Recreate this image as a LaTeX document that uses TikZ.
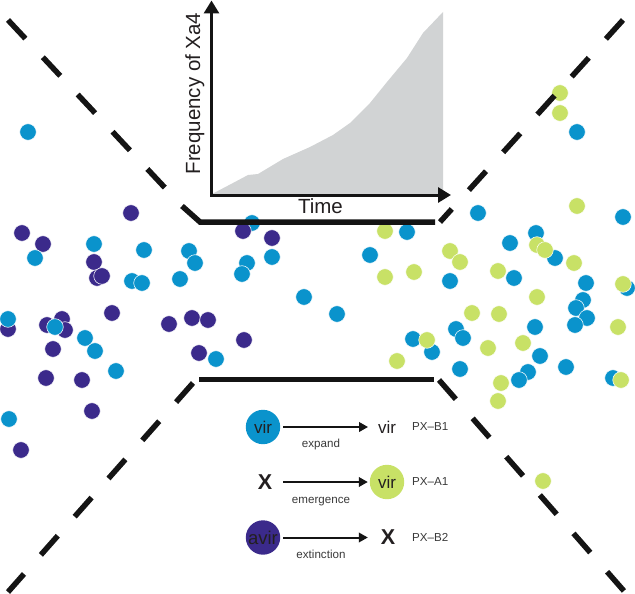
\documentclass[tikz,border=0pt]{standalone}
\usepackage{fontspec}
\setmainfont{Liberation Sans}
\usetikzlibrary{arrows.meta}
\definecolor{cy}{HTML}{0A93CC}
\definecolor{pu}{HTML}{3B2A8B}
\definecolor{gr}{HTML}{C8E166}
\definecolor{gy}{HTML}{D1D3D4}
\definecolor{tx}{HTML}{231F20}
\definecolor{tx2}{HTML}{3A3A3A}
\definecolor{ln}{HTML}{141414}
\begin{document}
\begin{tikzpicture}[x=1pt,y=-1pt,
  dot/.style={circle,inner sep=0pt,minimum size=16.6pt,draw=white,line width=0.5pt},
  bigdot/.style={circle,inner sep=0pt,outer sep=0pt,minimum size=34.4pt,text=tx},
  barline/.style={line width=5.5pt,ln,line join=miter},
  dashline/.style={line width=5.5pt,ln,dash pattern=on 25.5pt off 25.5pt},
  axis/.style={line width=3pt,ln,line join=miter,{Triangle[length=13pt,width=15pt]}-{Triangle[length=13pt,width=15pt]}},
  legarrow/.style={line width=2pt,ln,-{Triangle[length=9pt,width=9.5pt]}},
  big/.style={font=\fontsize{20.5}{24}\selectfont,text=tx,inner sep=0pt},
  vir/.style={font=\fontsize{17}{20}\selectfont,text=tx,inner sep=0pt,outer sep=0pt},
  bigx/.style={font=\fontsize{21.5}{24}\selectfont\bfseries,text=tx,inner sep=0pt,outer sep=0pt},
  small/.style={font=\fontsize{11.6}{13}\selectfont,text=tx2,inner sep=0pt}]
\useasboundingbox (0,0) rectangle (635,594);
\fill[white] (0,0) rectangle (635,594);

% chart area
\fill[gy] (212,194) -- (233,183) -- (248,175) -- (258,174) -- (283,159) -- (310,147)
  -- (333,135) -- (350,123) -- (370,103) -- (387,82) -- (407,58) -- (423,33)
  -- (443,12) -- (443,194) -- cycle;
\coordinate (ytop) at (211.5,0.5);
\coordinate (orig) at (211.5,195);
\coordinate (xend) at (451,195);
\draw[axis] (ytop) -- (orig) -- (xend);
\node[big,rotate=90,anchor=base] (ylab) at (200,93.5) {Frequency of Xa4};
\node[big,anchor=base] (xlab) at (320.5,213) {Time};

% dots (under)
\foreach \x/\y [count=\i] in {252/223}
  \node[dot,fill=cy] (cu\i) at (\x,\y) {};
% purple
\foreach \x/\y [count=\i] in {131/213,22/233,43/244,94/262,97/278,102/276,243/231,272/238,
  8/329,47/325,62/319,65/330,112/313,53/349,46/378,82/380,169/324,192/318,208/320,
  199/353,244/340,92/411,21/450}
  \node[dot,fill=pu] (pu\i) at (\x,\y) {};
% cyan
\foreach \x/\y [count=\i] in {28/132,35/258,94/244,144/250,132/281,142/283,189/251,195/263,
  180/279,272/257,247/263,242/274,304/297,8/319,55/327,85/338,95/351,116/371,216/359,
  9/419,577/132,478/213,623/217,407/232,370/255,450/281,510/243,536/233,555/258,514/278,
  586/283,627/288,337/314,583/300,576/308,587/318,575/325,535/327,456/329,463/338,
  413/339,432/352,540/356,460/369,528/372,519/380,566/367,613/378}
  \node[dot,fill=cy] (cy\i) at (\x,\y) {};
% green
\foreach \x/\y [count=\i] in {560/93,560/113,577/206,385/231,450/251,460/262,385/277,414/272,
  537/245,545/250,574/263,498/271,623/284,537/297,472/313,499/314,618/327,427/340,
  488/348,523/343,397/361,621/380,501/383,498/401,543/481}
  \node[dot,fill=gr] (gr\i) at (\x,\y) {};

% hourglass lines
\draw[dashline] (8,20) -- (182,206);
\draw[barline] (182,206) -- (200,222) -- (435,222);
\draw[dashline] (623,20) -- (440,222);
\draw[barline] (199,379.5) -- (434,379.5);
\draw[dashline] (193,383) -- (8,592);
\draw[dashline] (439,380) -- (624,591);

% legend
\node[bigdot,fill=cy,font=\fontsize{17}{20}\selectfont] (l1) at (263,427) {vir};
\node[vir] (r1) at (387,427) {vir};
\node[small,anchor=west] (p1) at (412,427) {PX–B1};
\node[small,anchor=base] (c1) at (321,447.5) {expand};
\draw[legarrow,shorten <=3pt,shorten >=10pt] (l1) -- (r1);

\node[bigx] (l2) at (265,482) {X};
\node[bigdot,fill=gr,font=\fontsize{17}{20}\selectfont] (r2) at (387,482) {vir};
\node[small,anchor=west] (p2) at (412,482) {PX–A1};
\node[small,anchor=base] (c2) at (321,503) {emergence};
\draw[legarrow,shorten <=11pt,shorten >=2pt] (l2) -- (r2);

\node[bigdot,fill=pu,font=\fontsize{18.5}{20}\selectfont] (l3) at (263,537.5) {avir};
\node[bigx] (r3) at (388,537.5) {X};
\node[small,anchor=west] (p3) at (412,537.5) {PX–B2};
\node[small,anchor=base] (c3) at (321,558) {extinction};
\draw[legarrow,shorten <=3pt,shorten >=13pt] (l3) -- (r3);
\end{tikzpicture}
\end{document}
